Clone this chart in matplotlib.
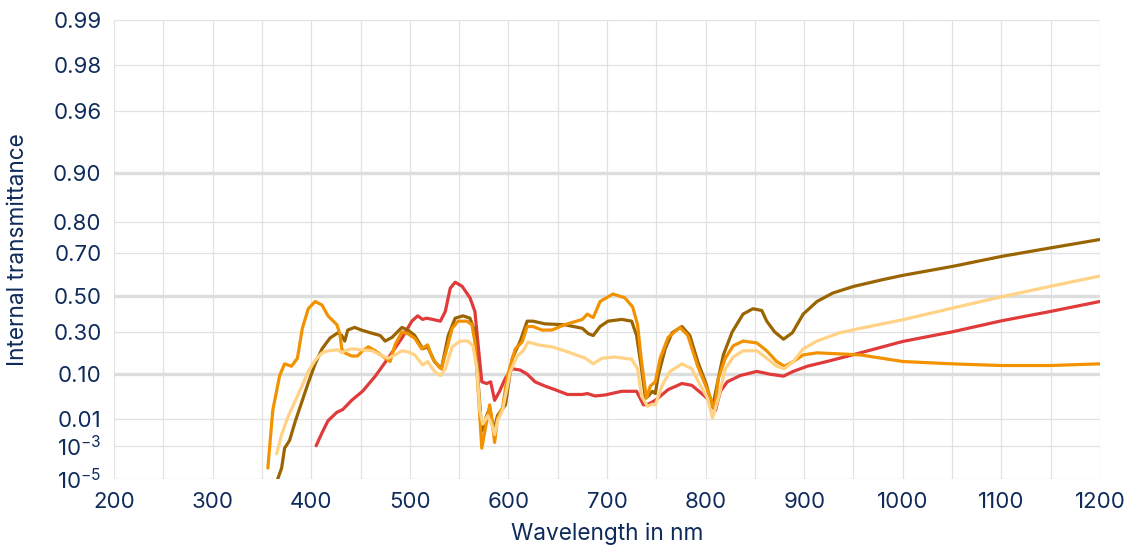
"""Internal transmittance spectra of four filter glasses."""

import matplotlib
matplotlib.use("Agg")
import matplotlib.pyplot as plt
import numpy as np

plt.rcParams["font.family"] = ["Inter", "DejaVu Sans"]
plt.rcParams["mathtext.default"] = "regular"

TEXT = "#0f2b5b"
GRID = "#e2e2e2"

# wavelength (nm) / internal transmittance for each glass
wl_red = [405, 411, 417, 426, 432, 441, 452, 465, 478, 492, 502, 508, 513, 517, 523,
          531, 536, 541, 546, 553, 561, 566, 569, 573, 578, 582, 586, 591, 597, 604,
          612, 619, 627, 637, 647, 660, 675, 680, 688, 698, 715, 730, 737, 742, 749,
          762, 776, 786, 796, 804, 810, 815, 822, 835, 852, 865, 879, 889, 903, 923,
          957, 1000, 1050, 1100, 1150, 1200]
t_red = [0.001, 0.0035, 0.009, 0.016, 0.019, 0.032, 0.05, 0.093, 0.165, 0.266, 0.36,
         0.39, 0.37, 0.377, 0.37, 0.36, 0.415, 0.54, 0.57, 0.55, 0.49, 0.415, 0.245,
         0.075, 0.07, 0.075, 0.032, 0.05, 0.087, 0.12, 0.115, 0.10, 0.075, 0.063, 0.054,
         0.043, 0.043, 0.045, 0.04, 0.042, 0.05, 0.05, 0.025, 0.026, 0.032, 0.054, 0.07,
         0.065, 0.045, 0.032, 0.018, 0.05, 0.075, 0.095, 0.11, 0.10, 0.093, 0.11, 0.13,
         0.15, 0.19, 0.248, 0.30, 0.362, 0.415, 0.47]

wl_brown = [366, 370, 373, 378, 384, 391, 397, 404, 411, 419, 427, 431, 434, 437, 444,
            451, 460, 470, 475, 482, 492, 498, 505, 513, 518, 525, 532, 539, 546, 554,
            561, 566, 569, 573, 578, 581, 585, 589, 597, 604, 612, 619, 625, 637, 657,
            675, 681, 686, 693, 701, 715, 725, 730, 735, 739, 742, 746, 749, 752, 759,
            766, 776, 784, 792, 801, 807, 813, 818, 827, 838, 848, 857, 862, 870, 879,
            888, 899, 913, 929, 950, 979, 1000, 1051, 1100, 1149, 1200]
t_brown = [1e-5, 6e-5, 7.7e-4, 0.0017, 0.009, 0.032, 0.072, 0.14, 0.21, 0.266, 0.295,
           0.28, 0.25, 0.31, 0.325, 0.31, 0.295, 0.28, 0.25, 0.27, 0.325, 0.31, 0.28,
           0.21, 0.22, 0.15, 0.12, 0.28, 0.377, 0.39, 0.377, 0.30, 0.087, 0.004, 0.013,
           0.021, 0.004, 0.013, 0.025, 0.165, 0.25, 0.36, 0.36, 0.345, 0.34, 0.32, 0.29,
           0.28, 0.33, 0.36, 0.37, 0.36, 0.28, 0.12, 0.036, 0.04, 0.05, 0.045, 0.095,
           0.21, 0.295, 0.33, 0.28, 0.15, 0.065, 0.021, 0.087, 0.18, 0.30, 0.40, 0.43,
           0.42, 0.36, 0.30, 0.26, 0.295, 0.40, 0.47, 0.515, 0.549, 0.582, 0.603, 0.644,
           0.685, 0.717, 0.747]

wl_orange = [356, 361, 368, 373, 380, 386, 391, 397, 404, 411, 417, 426, 429, 431, 434,
             441, 447, 452, 458, 465, 475, 480, 485, 492, 498, 505, 512, 518, 523, 529,
             532, 537, 543, 549, 558, 563, 566, 569, 573, 578, 581, 584, 586, 589, 594,
             599, 607, 614, 619, 625, 634, 644, 657, 675, 680, 686, 693, 706, 718, 726,
             731, 735, 740, 744, 749, 754, 762, 774, 782, 792, 801, 806, 809, 813, 820,
             828, 838, 852, 862, 872, 880, 889, 899, 913, 936, 957, 1000, 1050, 1100,
             1150, 1200]
t_orange = [5.9e-5, 0.018, 0.095, 0.14, 0.13, 0.165, 0.32, 0.43, 0.47, 0.45, 0.39, 0.34,
            0.29, 0.21, 0.19, 0.175, 0.175, 0.20, 0.22, 0.20, 0.165, 0.15, 0.23, 0.30,
            0.29, 0.265, 0.21, 0.23, 0.165, 0.13, 0.12, 0.20, 0.32, 0.36, 0.36, 0.34,
            0.245, 0.065, 7.7e-4, 0.009, 0.025, 0.007, 0.0014, 0.011, 0.021, 0.095, 0.21,
            0.245, 0.33, 0.33, 0.31, 0.31, 0.34, 0.37, 0.40, 0.38, 0.47, 0.51, 0.49, 0.44,
            0.34, 0.15, 0.036, 0.063, 0.075, 0.165, 0.27, 0.325, 0.28, 0.13, 0.058, 0.032,
            0.018, 0.087, 0.165, 0.225, 0.25, 0.24, 0.20, 0.15, 0.13, 0.15, 0.18, 0.19,
            0.185, 0.18, 0.15, 0.14, 0.133, 0.133, 0.14]

wl_peach = [365, 370, 376, 384, 391, 397, 404, 411, 417, 427, 431, 434, 441, 451, 462,
            472, 478, 485, 492, 498, 505, 513, 518, 525, 531, 536, 543, 551, 559, 564,
            568, 571, 574, 579, 583, 586, 589, 594, 602, 609, 615, 620, 630, 644, 657,
            678, 686, 695, 708, 725, 731, 735, 741, 746, 749, 756, 764, 776, 786, 796,
            802, 807, 813, 820, 828, 838, 852, 862, 872, 880, 889, 899, 913, 936, 957,
            1000, 1050, 1100, 1150, 1200]
t_peach = [4e-4, 0.003, 0.011, 0.032, 0.065, 0.11, 0.155, 0.19, 0.20, 0.205, 0.19, 0.20,
           0.21, 0.205, 0.20, 0.175, 0.165, 0.18, 0.20, 0.195, 0.18, 0.135, 0.15, 0.11,
           0.095, 0.12, 0.22, 0.25, 0.25, 0.225, 0.12, 0.018, 0.007, 0.013, 0.007, 0.003,
           0.009, 0.018, 0.11, 0.175, 0.20, 0.245, 0.23, 0.22, 0.20, 0.165, 0.14, 0.165,
           0.17, 0.16, 0.12, 0.04, 0.023, 0.026, 0.025, 0.065, 0.11, 0.14, 0.12, 0.058,
           0.036, 0.011, 0.036, 0.12, 0.17, 0.20, 0.20, 0.165, 0.13, 0.12, 0.15, 0.21,
           0.25, 0.295, 0.32, 0.368, 0.433, 0.495, 0.55, 0.60]

Y_TICKS = [1e-5, 1e-3, 0.01, 0.10, 0.30, 0.50, 0.70, 0.80, 0.90, 0.96, 0.98, 0.99]
Y_LABELS = [r"$10^{-5}$", r"$10^{-3}$", "0.01", "0.10", "0.30", "0.50", "0.70", "0.80",
            "0.90", "0.96", "0.98", "0.99"]
Y_MAJOR = [0.10, 0.50, 0.90]

SERIES = [
    (wl_red, t_red, "#e03a3a"),
    (wl_brown, t_brown, "#9a6400"),
    (wl_orange, t_orange, "#f39200"),
    (wl_peach, t_peach, "#ffd285"),
]


def _fwd(t):
    t = np.clip(np.asarray(t, dtype=float), 1e-12, 1 - 1e-12)
    return -np.log10(-np.log10(t))


def _inv(y):
    return 10 ** (-(10 ** (-np.asarray(y, dtype=float))))


def main():
    fig, ax = plt.subplots(figsize=(11.29, 5.52), dpi=100)
    fig.subplots_adjust(left=0.101, right=0.9743, top=0.9638, bottom=0.1322)

    ax.set_yscale("function", functions=(_fwd, _inv))
    ax.set_xlim(200, 1200)
    ax.set_ylim(1e-5, 0.99)

    for wl, t, color in SERIES:
        ax.plot(wl, t, color=color, lw=2.3, solid_joinstyle="round",
                solid_capstyle="round", zorder=3)

    # grid: every 50 nm, every labelled transmittance, heavier at 0.1/0.5/0.9
    for x in range(200, 1201, 50):
        ax.axvline(x, color=GRID, lw=0.9, zorder=1)
    for y in Y_TICKS:
        heavy = y in Y_MAJOR
        ax.axhline(y, color="#dcdddd" if heavy else GRID, lw=2.4 if heavy else 0.9, zorder=1)

    ax.set_xticks(range(200, 1201, 100))
    ax.set_yticks(Y_TICKS)
    ax.set_yticklabels(Y_LABELS)
    ax.yaxis.set_minor_locator(plt.NullLocator())
    ax.xaxis.set_minor_locator(plt.NullLocator())
    ax.tick_params(axis="both", length=0, labelsize=16, labelcolor=TEXT)
    ax.tick_params(axis="y", pad=9)
    ax.tick_params(axis="x", pad=9)

    for side in ("top", "right", "left", "bottom"):
        ax.spines[side].set_visible(False)

    ax.set_xlabel("Wavelength in nm", fontsize=16.3, color=TEXT, labelpad=8)
    ax.set_ylabel("Internal transmittance", fontsize=16.3, color=TEXT, labelpad=17)

    fig.savefig("out.png", dpi=100)
    plt.close(fig)


if __name__ == "__main__":
    main()
